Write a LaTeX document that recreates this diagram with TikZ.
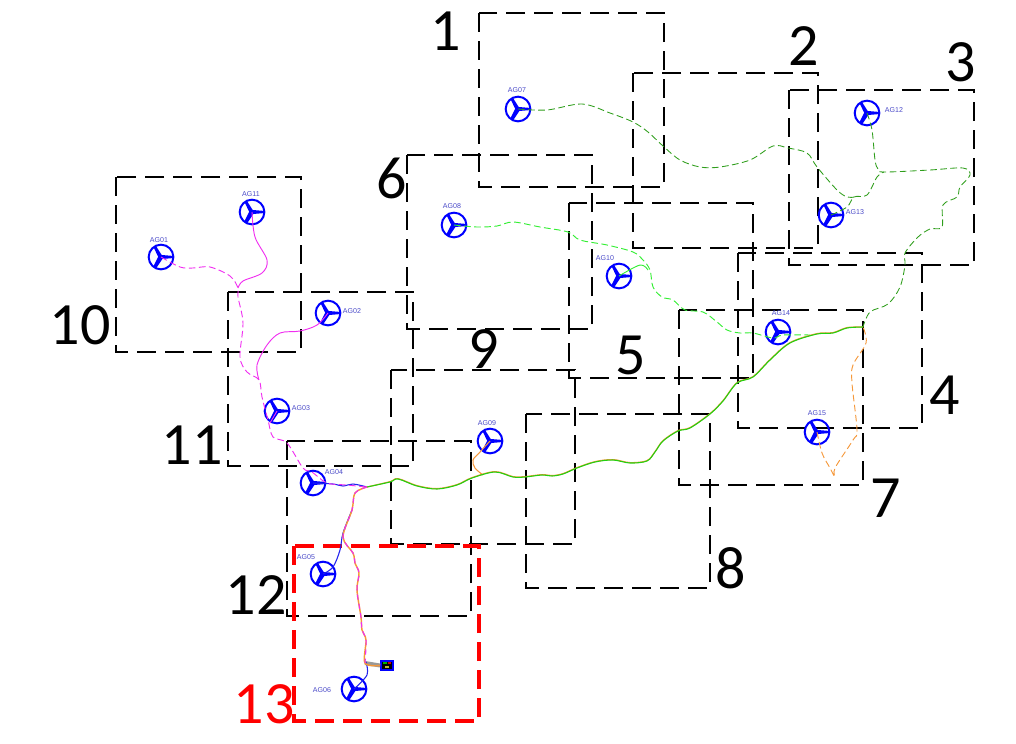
\documentclass[tikz,border=0pt]{standalone}
\usepackage{fontspec}
\setmainfont{Liberation Sans}
\newfontfamily\numfont{Carlito}
\definecolor{cdark}{HTML}{2F9E1C}
\definecolor{clight}{HTML}{33EE33}
\definecolor{cmain}{HTML}{22D011}
\definecolor{corange}{HTML}{F5983A}
\definecolor{cmag}{HTML}{F02FF0}
\definecolor{cblue}{HTML}{2222EE}
\definecolor{clabel}{HTML}{4A4AC8}
\definecolor{cred}{HTML}{FF0000}
\definecolor{cbar}{HTML}{999999}
\tikzset{
  zone/.style={draw=black,line width=1.5pt,dash pattern=on 14.5pt off 6.5pt},
  redzone/.style={draw=cred,line width=3.4pt,dash pattern=on 14.5pt off 6.5pt},
  num/.style={font=\numfont\fontsize{45}{45}\selectfont,text=black,inner sep=0pt},
  tag/.style={font=\fontsize{5.3}{6}\selectfont,text=clabel,inner sep=0pt},
  turbine/.style={circle,draw=blue,line width=1.5pt,minimum size=18.5pt,inner sep=0pt,
    path picture={
      \begin{scope}[shift={(path picture bounding box.center)}]
        \fill[blue] (-1.5,-2.2) -- (13,-1) -- (13,1) -- (-1.5,2.2) -- cycle;
        \fill[blue] (-2.5,0.5) -- (-7.5,-10) -- (-5,-11) -- (1,-1.5) -- cycle;
        \fill[blue] (-2.5,-1) -- (-8,10) -- (-5,11.5) -- (2,1) -- cycle;
      \end{scope}
    }},
  dashdark/.style={draw=cdark,line width=0.65pt,dash pattern=on 5pt off 2.6pt,smooth,tension=0.55},
  dashlight/.style={draw=clight,line width=0.7pt,dash pattern=on 5pt off 2.6pt,smooth,tension=0.55},
  dashmag/.style={draw=cmag,line width=0.7pt,dash pattern=on 5pt off 2.6pt,smooth,tension=0.55},
  dashorange/.style={draw=corange,line width=0.7pt,dash pattern=on 5pt off 2.6pt,smooth,tension=0.55},
  solidcable/.style={line width=0.8pt,smooth,tension=0.55},
  station/.style={draw=blue,line width=1.3pt,fill=black,minimum width=9pt,minimum height=7pt,inner sep=0pt,
    path picture={
      \begin{scope}[shift={(path picture bounding box.center)}]
        \fill[green!70!black] (-4,-4) rectangle (0,-2);
        \fill[red!80!black] (1,-4) rectangle (4,-2);
        \fill[yellow!70!black] (-2,0) rectangle (2,2);
      \end{scope}
    }},
}
\begin{document}
\begin{tikzpicture}[x=0.75pt,y=-0.75pt]
\useasboundingbox (0,0) rectangle (1016,743);
% zones
\draw[zone] (479,13) rectangle (664,187);
\draw[zone] (633,73) rectangle (818,248);
\draw[zone] (789,90) rectangle (974,265);
\draw[zone] (738,253) rectangle (922,428);
\draw[zone] (569,203) rectangle (753,378);
\draw[zone] (407,155) rectangle (592,329);
\draw[zone] (679,310) rectangle (863,485);
\draw[zone] (526,414) rectangle (710,588);
\draw[zone] (391,370) rectangle (575,544);
\draw[zone] (116,177) rectangle (301,352);
\draw[zone] (228,292) rectangle (413,466);
\draw[zone] (287,441) rectangle (471,616);
\draw[redzone] (294,546) rectangle (479,721);
% zone numbers
\node[num] (n1) at (446,31) {1};
\node[num] (n2) at (804,46) {2};
\node[num] (n3) at (961,62) {3};
\node[num] (n4) at (945,395) {4};
\node[num] (n5) at (631,355) {5};
\node[num] (n6) at (392,178) {6};
\node[num] (n7) at (886,498) {7};
\node[num] (n8) at (731,568) {8};
\node[num] (n9) at (484,349) {9};
\node[num] (n10) at (80,325) {10};
\node[num] (n11) at (192,445) {11};
\node[num] (n12) at (256,595) {12};
\node[num,text=cred] (n13) at (264,704) {13};
% turbines
\node[turbine] (ag01) at (161,257) {};
\node[turbine] (ag02) at (328,313) {};
\node[turbine] (ag03) at (277,411) {};
\node[turbine] (ag04) at (313,483) {};
\node[turbine] (ag05) at (323,574) {};
\node[turbine] (ag06) at (354,689) {};
\node[turbine] (ag07) at (518,109) {};
\node[turbine] (ag08) at (454,225) {};
\node[turbine] (ag09) at (490,441) {};
\node[turbine] (ag10) at (619,276) {};
\node[turbine] (ag11) at (252,212) {};
\node[turbine] (ag12) at (867,113) {};
\node[turbine] (ag13) at (831,215) {};
\node[turbine] (ag14) at (778,332) {};
\node[turbine] (ag15) at (817,432) {};
% turbine labels
\node[tag] (t01) at (159,240) {AG01};
\node[tag] (t02) at (352,311) {AG02};
\node[tag] (t03) at (301,408) {AG03};
\node[tag] (t04) at (334,472) {AG04};
\node[tag] (t05) at (306,557) {AG05};
\node[tag] (t06) at (322,690) {AG06};
\node[tag] (t07) at (517,90) {AG07};
\node[tag] (t08) at (452,206) {AG08};
\node[tag] (t09) at (487,423) {AG09};
\node[tag] (t10) at (605,258) {AG10};
\node[tag] (t11) at (251,194) {AG11};
\node[tag] (t12) at (894,110) {AG12};
\node[tag] (t13) at (855,212) {AG13};
\node[tag] (t14) at (781,313) {AG14};
\node[tag] (t15) at (817,413) {AG15};
% substation
\node[station] (sub) at (387,665.5) {};
\coordinate (barl) at (365,663);
\draw[cbar,line width=3pt] (barl) -- (sub.west);
% junctions
\coordinate (jtrunk) at (367,487);
\coordinate (jend) at (863,327);
\coordinate (jdark) at (854,197);
\coordinate (jfork) at (884,172);
\coordinate (jmag) at (238,288);
\coordinate (jmagb) at (259,380);
\coordinate (jblue) at (352,510);
\coordinate (jorange) at (483,475);
% dark green network
\draw[dashdark] plot coordinates {(ag07.center) (547,110) (582,104) (610,113) (633,122) (648,132) (663,146) (680,160) (700,167) (720,167) (750,160) (773,146) (788,148) (807,153) (817,167) (837,190) (847,197) (jdark)};
\draw[dashdark] plot coordinates {(ag13.center) (847,207) (jdark) (867,195) (877,177) (jfork)};
\draw[dashdark] plot coordinates {(ag12.center) (872,130) (875,160) (878,169) (jfork) (930,170) (963,168) (970,175) (960,187) (957,197) (943,205) (942,227) (930,229) (918,237) (905,253) (905,265) (900,287) (888,304) (870,312) (jend)};
% light green network
\draw[dashlight] plot coordinates {(ag08.center) (477,227) (497,226) (513,222) (540,227) (568,232) (580,240) (607,245) (633,252) (643,260) (650,270) (653,287) (662,297) (673,300) (685,310) (703,312) (717,322) (727,330) (740,333) (753,333) (773,338) (783,335) (810,335)};
\draw[clight,line width=0.7pt,smooth,tension=0.55] plot coordinates {(ag10.center) (640,265) (648,270)};
% orange network
\draw[dashorange] plot coordinates {(ag15.center) (822,453) (830,468) (835,477) (835,468) (853,440) (857,430) (852,383) (853,365) (866,343) (jend)};
\draw[corange,line width=0.8pt,smooth,tension=0.55] plot coordinates {(ag09.center) (480,452) (473,460) (475,468) (jorange)};
% main trunk, orange under green
\draw[solidcable,draw=corange,yshift=0.3pt,line width=0.9pt] plot coordinates {(jtrunk) (390,482) (398,479) (417,486) (437,489) (457,485) (472,478) (495,472) (513,477) (525,477) (542,475) (552,476) (563,474) (577,468) (595,462) (613,460) (630,463) (647,461) (655,452) (663,441) (678,431) (690,428) (710,414) (723,401) (737,383) (753,377) (770,360) (790,343) (817,334) (833,333) (847,328) (jend)};
\draw[solidcable,draw=cmain] plot coordinates {(jtrunk) (390,482) (398,479) (417,486) (437,489) (457,485) (472,478) (495,472) (513,477) (525,477) (542,475) (552,476) (563,474) (577,468) (595,462) (613,460) (630,463) (647,461) (655,452) (663,441) (678,431) (690,428) (710,414) (723,401) (737,383) (753,377) (770,360) (790,343) (817,334) (833,333) (847,328) (jend)};
% blue feeders
\draw[solidcable,draw=cblue] plot coordinates {(ag05.center) (333,567) (340,550) (343,533) (jblue)};
\draw[solidcable,draw=cblue] plot coordinates {(ag06.center) (367,675) (366,662)};
\draw[solidcable,draw=cblue] plot coordinates {(ag04.center) (333,484) (343,486) (353,484) (jtrunk)};
% trunk to substation
\draw[solidcable,draw=corange,line width=1.1pt] plot coordinates {(jtrunk) (355,493) (jblue) (343,537) (353,553) (355,563) (359,573) (357,590) (361,617) (362,630) (366,640) (barl) (sub.west)};
\draw[solidcable,draw=cmag,dash pattern=on 4pt off 3pt] plot coordinates {(jtrunk) (355,493) (jblue) (343,537) (353,553) (355,563) (359,573) (357,590) (361,617) (362,630) (366,640) (barl)};
% magenta network
\draw[dashmag] plot coordinates {(ag01.center) (180,267) (193,268) (210,267) (230,276) (jmag) (238,297) (243,323) (240,357) (247,372) (jmagb) (262,397) (268,420) (273,437) (287,443) (303,468) (312,472) (327,483) (347,485) (jtrunk)};
\draw[cmag,line width=0.7pt,smooth,tension=0.55] plot coordinates {(ag11.center) (255,237) (267,260) (262,273) (243,281) (jmag)};
\draw[cmag,line width=0.7pt,smooth,tension=0.55] plot coordinates {(ag02.center) (317,325) (300,331) (280,333) (267,345) (257,365) (jmagb)};
\draw[cmag,line width=0.7pt] (ag03.center) -- (270,423);
\end{tikzpicture}
\end{document}
